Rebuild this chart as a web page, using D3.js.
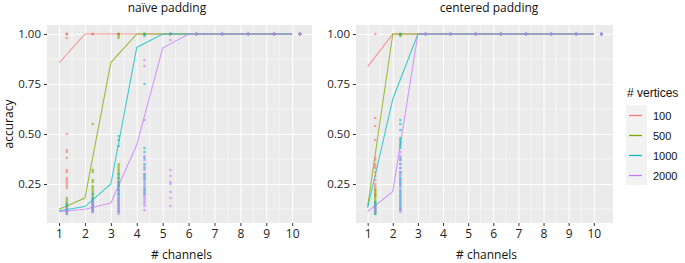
<!DOCTYPE html>
<html>
<head>
<meta charset="UTF-8">
<title>accuracy vs channels</title>
<script src="https://d3js.org/d3.v7.min.js"></script>
<style>
  body { margin: 0; background: #fff; }
  svg text { font-family: "Open Sans", sans-serif; }
  .legend text { font-family: "Liberation Sans", Arial, sans-serif; }
</style>
</head>
<body>
<svg id="chart" width="685" height="263"></svg>
<script>
// ---- data ----
const channels = [1, 2, 3, 4, 5, 6, 7, 8, 9, 10];
const vertices = ["100", "500", "1000", "2000"];
const colors = ["#F8766D", "#7CAE00", "#00BFC4", "#C77CFF"];
const yTicks = [0.25, 0.50, 0.75, 1.00];

// mean accuracy per channel count (lines)
const naiveMean100  = [0.855, 1, 1, 1, 1, 1, 1, 1, 1, 1];
const naiveMean500  = [0.124, 0.18, 0.857, 1, 1, 1, 1, 1, 1, 1];
const naiveMean1000 = [0.116, 0.137, 0.25, 0.933, 1, 1, 1, 1, 1, 1];
const naiveMean2000 = [0.112, 0.124, 0.155, 0.446, 0.93, 1, 1, 1, 1, 1];

const centMean100  = [0.837, 1, 1, 1, 1, 1, 1, 1, 1, 1];
const centMean500  = [0.14, 1, 1, 1, 1, 1, 1, 1, 1, 1];
const centMean1000 = [0.13, 0.675, 1, 1, 1, 1, 1, 1, 1, 1];
const centMean2000 = [0.112, 0.213, 1, 1, 1, 1, 1, 1, 1, 1];

// individual runs, one list per channel count (points)
const naiveRuns100 = [
  [1, 1, 1, 0.98, 0.5, 0.42, 0.41, 0.38, 0.32, 0.31, 0.28, 0.27, 0.26, 0.25, 0.24, 0.23],
  [1, 1, 1], [1, 1, 1], [1, 1, 1], [1, 1, 1], [1, 1, 1], [1, 1, 1], [1, 1, 1], [1, 1, 1], [1, 1, 1]
];
const naiveRuns500 = [
  [0.18, 0.17, 0.16, 0.15, 0.14, 0.13, 0.12, 0.11],
  [0.55, 0.32, 0.31, 0.27, 0.26, 0.24, 0.23, 0.22, 0.21, 0.2, 0.19, 0.18, 0.17, 0.16, 0.15, 0.14, 0.13, 0.12],
  [1, 0.99, 0.98, 0.35, 0.34, 0.33, 0.32, 0.31, 0.3, 0.29, 0.28, 0.27, 0.26, 0.25, 0.24, 0.22, 0.2],
  [1, 1, 1], [1, 1, 1], [1, 1, 1], [1, 1, 1], [1, 1, 1], [1, 1, 1], [1, 1, 1]
];
const naiveRuns1000 = [
  [0.15, 0.14, 0.13, 0.12, 0.11, 0.1],
  [0.2, 0.18, 0.17, 0.16, 0.15, 0.14, 0.13, 0.12, 0.11],
  [0.49, 0.47, 0.44, 0.3, 0.28, 0.26, 0.25, 0.24, 0.23, 0.22, 0.21, 0.2, 0.19, 0.18, 0.17, 0.16, 0.15, 0.14, 0.13, 0.12, 0.11],
  [1, 0.99, 0.75, 0.43, 0.41, 0.38, 0.35, 0.33, 0.3, 0.29, 0.28, 0.27, 0.25, 0.23, 0.22, 0.21, 0.2],
  [1, 1, 1], [1, 1, 1], [1, 1, 1], [1, 1, 1], [1, 1, 1], [1, 1, 1]
];
const naiveRuns2000 = [
  [0.13, 0.12, 0.11, 0.1],
  [0.16, 0.15, 0.14, 0.13, 0.12, 0.11],
  [0.25, 0.22, 0.2, 0.18, 0.17, 0.16, 0.15, 0.14, 0.13, 0.12, 0.11, 0.1],
  [0.87, 0.84, 0.57, 0.39, 0.37, 0.34, 0.32, 0.3, 0.28, 0.26, 0.24, 0.22, 0.2, 0.19, 0.18, 0.17, 0.16, 0.15, 0.14, 0.12],
  [1, 0.97, 0.32, 0.29, 0.26, 0.25, 0.21, 0.18, 0.14],
  [1, 1, 1], [1, 1, 1], [1, 1, 1], [1, 1, 1], [1, 1, 1]
];

const centRuns100 = [
  [1, 0.58, 0.54, 0.47, 0.38, 0.37, 0.35, 0.34, 0.33, 0.31, 0.29, 0.27, 0.25, 0.24, 0.23, 0.22, 0.2, 0.19],
  [1, 1, 1], [1, 1, 1], [1, 1, 1], [1, 1, 1], [1, 1, 1], [1, 1, 1], [1, 1, 1], [1, 1, 1], [1, 1, 1]
];
const centRuns500 = [
  [0.22, 0.21, 0.2, 0.19, 0.18, 0.17, 0.16, 0.15, 0.14, 0.13, 0.12, 0.11, 0.1],
  [1, 0.995, 0.99],
  [1, 1, 1], [1, 1, 1], [1, 1, 1], [1, 1, 1], [1, 1, 1], [1, 1, 1], [1, 1, 1], [1, 1, 1]
];
const centRuns1000 = [
  [0.16, 0.15, 0.14, 0.13, 0.12, 0.11, 0.1],
  [1, 0.57, 0.55, 0.52, 0.48, 0.47, 0.46, 0.45, 0.44, 0.43, 0.38, 0.37, 0.35, 0.33, 0.31, 0.3,
   0.28, 0.27, 0.26, 0.25, 0.24, 0.22, 0.21, 0.2, 0.19, 0.18, 0.17, 0.16, 0.15, 0.14, 0.13, 0.12],
  [1, 1, 1], [1, 1, 1], [1, 1, 1], [1, 1, 1], [1, 1, 1], [1, 1, 1], [1, 1, 1], [1, 1, 1]
];
const centRuns2000 = [
  [0.14, 0.13, 0.12, 0.11],
  [0.41, 0.39, 0.37, 0.35, 0.33, 0.31, 0.29, 0.27, 0.25, 0.23, 0.21, 0.19, 0.17, 0.15, 0.13, 0.12, 0.11],
  [1, 1, 1], [1, 1, 1], [1, 1, 1], [1, 1, 1], [1, 1, 1], [1, 1, 1], [1, 1, 1], [1, 1, 1]
];

const pointShift = 0.3; // runs are drawn a bit right of each channel

// ---- drawing ----
const svg = d3.select("#chart");
const panelTop = 25, panelBottom = 223;

const y = d3.scaleLinear().domain([0.055, 1.045]).range([panelBottom, panelTop]);
const color = d3.scaleOrdinal().domain(vertices).range(colors);

function drawPanel(left, right, title, titleX, means, runs, yTitle) {
  const x = d3.scaleLinear().domain([0.535, 10.765]).range([left, right]);
  const g = svg.append("g");

  g.append("rect")
    .attr("x", left).attr("y", panelTop)
    .attr("width", right - left).attr("height", panelBottom - panelTop)
    .attr("fill", "#EBEBEB");

  // minor grid
  const xMinor = channels.slice(0, 9).map(d => d + 0.5);
  const yMinor = [0.125, 0.375, 0.625, 0.875];
  g.selectAll(".xminor").data(xMinor).enter().append("line")
    .attr("x1", d => x(d)).attr("x2", d => x(d))
    .attr("y1", panelTop).attr("y2", panelBottom)
    .attr("stroke", "#fff").attr("stroke-width", 0.5);
  g.selectAll(".yminor").data(yMinor).enter().append("line")
    .attr("x1", left).attr("x2", right)
    .attr("y1", d => y(d)).attr("y2", d => y(d))
    .attr("stroke", "#fff").attr("stroke-width", 0.5);

  // major grid
  g.append("g")
    .attr("transform", `translate(0,${panelBottom})`)
    .call(d3.axisBottom(x).tickValues(channels).tickSize(-(panelBottom - panelTop)).tickFormat(""))
    .call(a => a.select(".domain").remove())
    .selectAll("line").attr("stroke", "#fff").attr("stroke-width", 1);
  g.append("g")
    .attr("transform", `translate(${left},0)`)
    .call(d3.axisLeft(y).tickValues(yTicks).tickSize(-(right - left)).tickFormat(""))
    .call(a => a.select(".domain").remove())
    .selectAll("line").attr("stroke", "#fff").attr("stroke-width", 1);

  // axes with ticks + labels
  g.append("g")
    .attr("transform", `translate(0,${panelBottom})`)
    .call(d3.axisBottom(x).tickValues(channels).tickSize(3).tickPadding(3))
    .call(a => a.select(".domain").remove())
    .call(a => a.selectAll("line").attr("stroke", "#333"))
    .call(a => a.selectAll("text").attr("fill", "#222").style("font-size", "12px")
      .style("font-family", "'Open Sans', sans-serif"));
  g.append("g")
    .attr("transform", `translate(${left},0)`)
    .call(d3.axisLeft(y).tickValues(yTicks).tickSize(3).tickPadding(3).tickFormat(d3.format(".2f")))
    .call(a => a.select(".domain").remove())
    .call(a => a.selectAll("line").attr("stroke", "#333"))
    .call(a => a.selectAll("text").attr("fill", "#222").style("font-size", "11.5px")
      .style("font-family", "'Open Sans', sans-serif"));

  // lines
  const line = d3.line().x((d, i) => x(channels[i])).y(d => y(d));
  means.forEach((m, k) => {
    g.append("path")
      .attr("d", line(m))
      .attr("fill", "none")
      .attr("stroke", colors[k])
      .attr("stroke-opacity", 0.75)
      .attr("stroke-width", 1.1);
  });

  // points
  runs.forEach((r, k) => {
    const pts = [];
    r.forEach((vals, i) => vals.forEach(v => pts.push([channels[i] + pointShift, v])));
    g.selectAll(null).data(pts).enter().append("circle")
      .attr("cx", d => x(d[0]))
      .attr("cy", d => y(d[1]))
      .attr("r", 1.35)
      .attr("fill", color(vertices[k]))
      .attr("fill-opacity", 0.6);
  });

  // titles
  svg.append("text")
    .attr("x", titleX).attr("y", 12)
    .attr("text-anchor", "middle")
    .style("font-size", "12px").attr("fill", "#111")
    .text(title);
  svg.append("text")
    .attr("x", (left + right) / 2 + 2).attr("y", 259)
    .attr("text-anchor", "middle")
    .style("font-size", "12px").attr("fill", "#111")
    .text("# channels");
  if (yTitle) {
    svg.append("text")
      .attr("transform", `translate(13,${(panelTop + panelBottom) / 2}) rotate(-90)`)
      .attr("text-anchor", "middle")
      .style("font-size", "12px").attr("fill", "#111")
      .text(yTitle);
  }
}

drawPanel(47, 312, "naïve padding", 167,
  [naiveMean100, naiveMean500, naiveMean1000, naiveMean2000],
  [naiveRuns100, naiveRuns500, naiveRuns1000, naiveRuns2000], "accuracy");
drawPanel(356, 613, "centered padding", 489,
  [centMean100, centMean500, centMean1000, centMean2000],
  [centRuns100, centRuns500, centRuns1000, centRuns2000], null);

// legend
const legend = svg.append("g").attr("class", "legend");
legend.append("text")
  .attr("x", 627).attr("y", 97)
  .style("font-size", "12px").attr("fill", "#111")
  .text("# vertices");
const keys = legend.selectAll(".key").data(vertices).enter().append("g")
  .attr("transform", (d, i) => `translate(626,${105 + i * 20})`);
keys.append("rect")
  .attr("width", 21).attr("height", 20)
  .attr("fill", "#F2F2F2");
keys.append("line")
  .attr("x1", 3).attr("x2", 16)
  .attr("y1", 10.5).attr("y2", 10.5)
  .attr("stroke", d => color(d))
  .attr("stroke-width", 1.3);
keys.append("text")
  .attr("x", 27).attr("y", 14.5)
  .style("font-size", "11px").attr("fill", "#111")
  .text(d => d);
</script>
</body>
</html>
